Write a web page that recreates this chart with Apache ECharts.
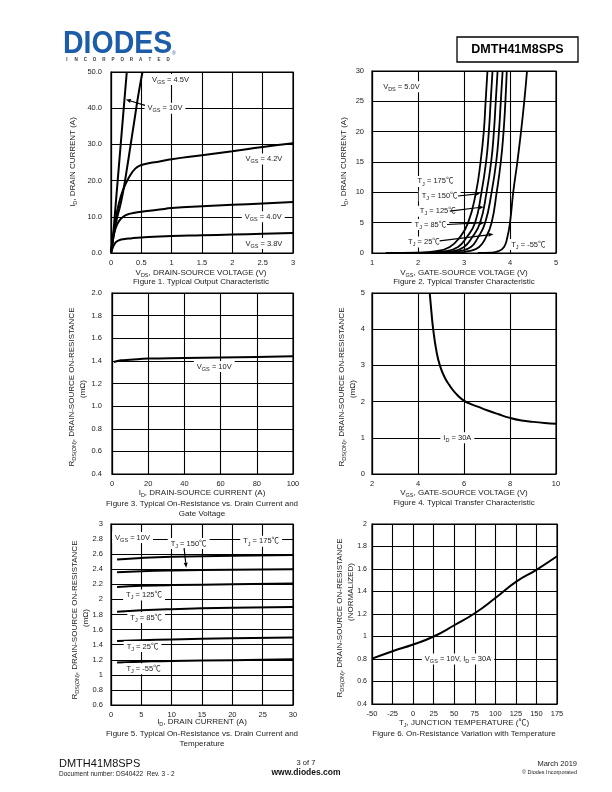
<!DOCTYPE html>
<html><head><meta charset="utf-8">
<script src="https://cdn.jsdelivr.net/npm/echarts@6/dist/echarts.min.js"></script>
<style>html,body{margin:0;padding:0;background:#fff}#c{width:612px;height:792px}</style>
</head><body><div id="c"></div>
<script>
// ---------- DATA ----------
// Figure 1: Typical Output Characteristic (VDS [V], ID [A])
const fig1_xTicks = ['0','0.5','1','1.5','2','2.5','3'];
const fig1_yTicks = ['0.0','10.0','20.0','30.0','40.0','50.0'];
const fig1_vgs10  = [[0,0],[0.03,4],[0.08,14],[0.13,24],[0.18,34],[0.22,42],[0.26,50]];
const fig1_vgs45  = [[0,0],[0.04,4.5],[0.09,9],[0.15,13],[0.2,17],[0.26,23],[0.32,29.5],[0.38,36],[0.43,41.5],[0.48,46.5],[0.52,50]];
const fig1_vgs42  = [[0,0],[0.03,4],[0.07,8.5],[0.12,13],[0.2,17.5],[0.3,21],[0.4,23.3],[0.5,24.3],[0.6,24.7],[0.8,25.3],[1,25.9],[1.5,27],[2,28.1],[2.5,29.3],[3,30.3]];
const fig1_vgs40  = [[0,0],[0.03,3.5],[0.07,6.5],[0.12,8.5],[0.2,10],[0.3,10.8],[0.5,11.4],[0.8,12],[1,12.4],[1.5,12.9],[2,13.3],[2.5,13.7],[3,14.1]];
const fig1_vgs38  = [[0,0],[0.03,1.5],[0.07,2.8],[0.12,3.4],[0.2,3.8],[0.35,4.1],[0.5,4.3],[1,4.7],[1.5,4.9],[2,5.1],[2.5,5.3],[3,5.5]];

// Figure 2: Typical Transfer Characteristic (VGS [V], ID [A])
const fig2_xTicks = ['1','2','3','4','5'];
const fig2_yTicks = ['0','5','10','15','20','25','30'];
const fig2_t175 = [[1.3,0],[2.0,0.05],[2.4,0.3],[2.69,1],[2.9,2.5],[3.09,5],[3.26,10],[3.36,15],[3.43,20],[3.47,25],[3.51,30]];
const fig2_t150 = [[1.6,0],[2.2,0.05],[2.6,0.3],[2.87,1],[3.05,2.5],[3.24,5],[3.38,10],[3.48,15],[3.54,20],[3.58,25],[3.62,30]];
const fig2_t125 = [[1.9,0],[2.4,0.05],[2.75,0.3],[3.0,1],[3.17,2.5],[3.35,5],[3.49,10],[3.59,15],[3.65,20],[3.69,25],[3.73,30]];
const fig2_t85  = [[2.2,0],[2.6,0.05],[2.9,0.3],[3.15,1],[3.3,2.5],[3.46,5],[3.6,10],[3.7,15],[3.76,20],[3.8,25],[3.84,30]];
const fig2_t25  = [[2.6,0],[2.9,0.05],[3.1,0.3],[3.33,1],[3.47,2.5],[3.6,5],[3.71,10],[3.8,15],[3.86,20],[3.9,25],[3.93,30]];
const fig2_tm55 = [[3.3,0],[3.6,0.05],[3.75,0.3],[3.87,1],[3.94,2.5],[4.0,5],[4.07,10],[4.16,15],[4.24,20],[4.31,25],[4.37,30]];

// Figure 3: On-Resistance vs Drain Current (ID [A], RDS(ON) [mOhm])
const fig3_xTicks = ['0','20','40','60','80','100'];
const fig3_yTicks = ['0.4','0.6','0.8','1.0','1.2','1.4','1.6','1.8','2.0'];
const fig3_vgs10 = [[1,1.39],[5,1.405],[10,1.41],[20,1.42],[40,1.425],[60,1.43],[80,1.435],[100,1.44]];

// Figure 4: On-Resistance vs Gate Voltage (VGS [V], RDS(ON) [mOhm])
const fig4_xTicks = ['2','4','6','8','10'];
const fig4_yTicks = ['0','1','2','3','4','5'];
const fig4_id30 = [[4.51,5],[4.58,4.5],[4.66,4.0],[4.8,3.4],[4.95,3.0],[5.15,2.68],[5.38,2.44],[5.65,2.22],[5.96,2.04],[6.3,1.93],[6.6,1.86],[7,1.76],[7.5,1.65],[8,1.55],[8.5,1.48],[9,1.44],[9.5,1.41],[10,1.39]];

// Figure 5: On-Resistance vs Drain Current and Temperature (ID [A], RDS(ON) [mOhm])
const fig5_xTicks = ['0','5','10','15','20','25','30'];
const fig5_yTicks = ['0.6','0.8','1','1.2','1.4','1.6','1.8','2','2.2','2.4','2.6','2.8','3'];
const fig5_t175 = [[1,2.53],[5,2.55],[10,2.565],[20,2.58],[30,2.59]];
const fig5_t150 = [[1,2.36],[5,2.375],[10,2.385],[20,2.395],[30,2.4]];
const fig5_t125 = [[1,2.165],[5,2.18],[10,2.19],[20,2.2],[30,2.21]];
const fig5_t85  = [[1,1.835],[5,1.855],[10,1.87],[20,1.89],[30,1.9]];
const fig5_t25  = [[1,1.45],[5,1.46],[10,1.47],[20,1.485],[30,1.495]];
const fig5_tm55 = [[1,1.165],[5,1.175],[10,1.185],[20,1.195],[30,1.205]];

// Figure 6: On-Resistance Variation with Temperature (TJ [C], normalized)
const fig6_xTicks = ['-50','-25','0','25','50','75','100','125','150','175'];
const fig6_yTicks = ['0.4','0.6','0.8','1','1.2','1.4','1.6','1.8','2'];
const fig6_norm = [[-50,0.803],[-25,0.869],[0,0.929],[25,1.0],[50,1.1],[75,1.207],[100,1.342],[125,1.486],[150,1.593],[175,1.713]];

// ---------- CHART ----------
const FONT = "'Liberation Sans', Arial, 'Noto Sans CJK SC', sans-serif";
const chart = echarts.init(document.getElementById('c'), null, {renderer:'canvas'});

const grids = [
  {left:111, top:72,  width:182, height:181},
  {left:372, top:71,  width:184, height:182},
  {left:112, top:293, width:181, height:181},
  {left:372, top:293, width:184, height:181},
  {left:111, top:524, width:182, height:181},
  {left:372, top:524, width:185, height:180}
].map(g => Object.assign({show:true, borderColor:'#000', borderWidth:1.2, backgroundColor:'#fff'}, g));

function fmt(ticks, min, step){ return v => { const i = Math.round((v-min)/step); return ticks[i] !== undefined ? ticks[i] : ''; }; }
function axis(gi, min, max, step, ticks, isX, m, fs){
  return {type:'value', gridIndex:gi, min, max, interval:step,
    axisLine:{show:true, onZero:false, lineStyle:{color:'#000', width:1.2}},
    axisTick:{show:false},
    splitLine:{show:true, lineStyle:{color:'#000', width:1.1}},
    axisLabel:{fontSize:fs||7.5, fontFamily:FONT, color:'#222', margin: m || (isX?6:8),
      showMinLabel:true, showMaxLabel:true, hideOverlap:false, formatter: fmt(ticks, min, step)}};
}
const xAxis = [
  axis(0, 0, 3, 0.5, fig1_xTicks, true),
  axis(1, 1, 5, 1, fig2_xTicks, true),
  axis(2, 0, 100, 20, fig3_xTicks, true),
  axis(3, 2, 10, 2, fig4_xTicks, true),
  axis(4, 0, 30, 5, fig5_xTicks, true),
  axis(5, -50, 175, 25, fig6_xTicks, true)
];
const yAxis = [
  axis(0, 0, 50, 10, fig1_yTicks, false, 9),
  axis(1, 0, 30, 5, fig2_yTicks, false, 8),
  axis(2, 0.4, 2.0, 0.2, fig3_yTicks, false, 10),
  axis(3, 0, 5, 1, fig4_yTicks, false, 7),
  axis(4, 0.6, 3.0, 0.2, fig5_yTicks, false, 8),
  axis(5, 0.4, 2.0, 0.2, fig6_yTicks, false, 5, 7)
];
function line(gi, data, w, sm){
  return {type:'line', xAxisIndex:gi, yAxisIndex:gi, data, symbol:'none', showSymbol:false,
    smooth: sm === undefined ? 0.5 : sm, clip:true, z:5,
    lineStyle:{color:'#000', width:w||2}, animation:false};
}
const series = [
  line(0, fig1_vgs10), line(0, fig1_vgs45), line(0, fig1_vgs42), line(0, fig1_vgs40), line(0, fig1_vgs38),
  line(1, fig2_t175, 1.8), line(1, fig2_t150, 1.8), line(1, fig2_t125, 1.8), line(1, fig2_t85, 1.8), line(1, fig2_t25, 1.8), line(1, fig2_tm55, 1.8),
  line(2, fig3_vgs10),
  line(3, fig4_id30),
  line(4, fig5_t175), line(4, fig5_t150), line(4, fig5_t125), line(4, fig5_t85), line(4, fig5_t25), line(4, fig5_tm55),
  line(5, fig6_norm)
];
chart.setOption({animation:false, backgroundColor:'#fff', grid:grids, xAxis, yAxis, series});

// ---------- ANNOTATIONS ----------
const RICH = {
  s:{fontSize:5.5, fontFamily:FONT, fill:'#222', lineHeight:5, verticalAlign:'bottom'}
};
function T(x, y, text, o){
  o = o || {};
  return {type:'text', x, y, rotation:o.rot||0, z:100, silent:true,
    style:{text, fontSize:o.size||8, fontFamily:FONT, fontWeight:o.bold?'bold':'normal',
      fill:o.color||'#222', align:o.align||'center', verticalAlign:'middle',
      lineHeight:o.lh||11, rich:RICH,
      backgroundColor:o.bg||null, padding:o.bg?[0,3,0,3]:0}};
}
const P = (gi, x, y) => chart.convertToPixel({gridIndex:gi}, [x, y]);
function L(gi, x, y, text){ const p = P(gi, x, y); return T(p[0], p[1], text, {size:7.5, bg:'#fff'}); }
function arrow(gi, a, b){
  const p = P(gi, a[0], a[1]), q = P(gi, b[0], b[1]);
  const dx = q[0]-p[0], dy = q[1]-p[1], len = Math.hypot(dx,dy), ux = dx/len, uy = dy/len;
  const hl = 5, hw = 2;
  const bx = q[0]-ux*hl, by = q[1]-uy*hl;
  return [
    {type:'line', z:101, silent:true, shape:{x1:p[0], y1:p[1], x2:bx, y2:by}, style:{stroke:'#000', lineWidth:1.2}},
    {type:'polygon', z:101, silent:true, shape:{points:[[q[0],q[1]],[bx-uy*hw, by+ux*hw],[bx+uy*hw, by-ux*hw]]}, style:{fill:'#000'}}
  ];
}
const g = [];
// header
g.push({type:'text', x:63, y:44, z:100, scaleY:1.12, style:{text:'DIODES', fontSize:28.5, fontFamily:FONT, fontWeight:'bold', fill:'#1d5ca8', align:'left', verticalAlign:'middle'}});
g.push({type:'text', x:172, y:54, z:100, style:{text:'®', fontSize:5, fontFamily:FONT, fill:'#1d5ca8', align:'left', verticalAlign:'middle'}});
'INCORPORATED'.split('').forEach((ch, i) => g.push(T(67 + i * 9.2, 60, ch, {size:4.5, bold:true, color:'#333'})));
g.push({type:'rect', z:100, shape:{x:457, y:37, width:121, height:25}, style:{fill:'#fff', stroke:'#000', lineWidth:1.3}});
g.push(T(517.5, 50, 'DMTH41M8SPS', {size:12.5, bold:true, color:'#000'}));

// Figure 1 texts
g.push(L(0, 0.98, 47.9, 'V{s|GS} = 4.5V'));
g.push(L(0, 0.89, 40, 'V{s|GS} = 10V'));
g.push(...arrow(0, [0.56, 40.8], [0.245, 42.4]));
g.push(L(0, 2.52, 26, 'V{s|GS} = 4.2V'));
g.push(L(0, 2.51, 10, 'V{s|GS} = 4.0V'));
g.push(L(0, 2.52, 2.6, 'V{s|GS} = 3.8V'));
g.push(T(201, 273, 'V{s|DS}, DRAIN-SOURCE VOLTAGE (V)'));
g.push(T(201, 282, 'Figure 1. Typical Output Characteristic'));
g.push(T(73, 162, 'I{s|D}, DRAIN CURRENT (A)', {rot:Math.PI/2}));

// Figure 2 texts
g.push(L(1, 1.64, 27.4, 'V{s|DS} = 5.0V'));
g.push(L(1, 2.38, 11.8, 'T{s|J} = 175℃'));
g.push(L(1, 2.47, 9.4, 'T{s|J} = 150℃'));
g.push(...arrow(1, [2.87, 9.4], [3.35, 9.8]));
g.push(L(1, 2.43, 6.9, 'T{s|J} = 125℃'));
g.push(...arrow(1, [2.69, 6.9], [3.43, 7.6]));
g.push(L(1, 2.27, 4.7, 'T{s|J} = 85℃'));
g.push(...arrow(1, [2.63, 4.7], [3.45, 5.0]));
g.push(L(1, 2.13, 1.8, 'T{s|J} = 25℃'));
g.push(...arrow(1, [2.47, 2.0], [3.64, 3.1]));
g.push(L(1, 4.40, 1.4, 'T{s|J} = -55℃'));
g.push(T(464, 273, 'V{s|GS}, GATE-SOURCE VOLTAGE (V)'));
g.push(T(464, 282, 'Figure 2. Typical Transfer Characteristic'));
g.push(T(344, 162, 'I{s|D}, DRAIN CURRENT (A)', {rot:Math.PI/2}));

// Figure 3 texts
g.push(L(2, 56.5, 1.35, 'V{s|GS} = 10V'));
g.push(T(202, 493, 'I{s|D}, DRAIN-SOURCE CURRENT (A)'));
g.push(T(202, 504, 'Figure 3. Typical On-Resistance vs. Drain Current and'));
g.push(T(202, 514, 'Gate Voltage'));
g.push(T(72, 387, 'R{s|DS(ON)}, DRAIN-SOURCE ON-RESISTANCE', {rot:Math.PI/2}));
g.push(T(83, 389, '(mΩ)', {rot:Math.PI/2}));

// Figure 4 texts
g.push(L(3, 5.71, 1.0, 'I{s|D} = 30A'));
g.push(T(464, 493, 'V{s|GS}, GATE-SOURCE VOLTAGE (V)'));
g.push(T(464, 503, 'Figure 4. Typical Transfer Characteristic'));
g.push(T(342, 387, 'R{s|DS(ON)}, DRAIN-SOURCE ON-RESISTANCE', {rot:Math.PI/2}));
g.push(T(353, 389, '(mΩ)', {rot:Math.PI/2}));

// Figure 5 texts
g.push(L(4, 3.55, 2.82, 'V{s|GS} = 10V'));
g.push(L(4, 12.8, 2.74, 'T{s|J} = 150℃'));
g.push(...arrow(4, [12.05, 2.68], [12.4, 2.42]));
g.push(L(4, 24.75, 2.77, 'T{s|J} = 175℃'));
g.push(L(4, 5.45, 2.06, 'T{s|J} = 125℃'));
g.push(L(4, 5.8, 1.76, 'T{s|J} = 85℃'));
g.push(L(4, 5.2, 1.375, 'T{s|J} = 25℃'));
g.push(L(4, 5.36, 1.08, 'T{s|J} = -55℃'));
g.push(T(202, 722, 'I{s|D}, DRAIN CURRENT (A)'));
g.push(T(202, 734, 'Figure 5. Typical On-Resistance vs. Drain Current and'));
g.push(T(202, 744, 'Temperature'));
g.push(T(75, 620, 'R{s|DS(ON)}, DRAIN-SOURCE ON-RESISTANCE', {rot:Math.PI/2}));
g.push(T(86, 618, '(mΩ)', {rot:Math.PI/2}));

// Figure 6 texts
g.push(L(5, 54.6, 0.8, 'V{s|GS} = 10V, I{s|D} = 30A'));
g.push(T(464, 723, 'T{s|J}, JUNCTION TEMPERATURE (℃)'));
g.push(T(464, 734, 'Figure 6. On-Resistance Variation with Temperature'));
g.push(T(340, 618, 'R{s|DS(ON)}, DRAIN-SOURCE ON-RESISTANCE', {rot:Math.PI/2}));
g.push(T(351, 592, '(NORMALIZED)', {rot:Math.PI/2}));

// footer
g.push(T(59, 764, 'DMTH41M8SPS', {size:11, align:'left', color:'#111'}));
g.push(T(59, 774, 'Document number: DS40422  Rev. 3 - 2', {size:6.5, align:'left'}));
g.push(T(306, 763, '3 of 7', {size:7.5}));
g.push(T(306, 773, 'www.diodes.com', {size:8.5, bold:true, color:'#111'}));
g.push(T(577, 764, 'March 2019', {size:7.5, align:'right'}));
g.push(T(577, 772, '© Diodes Incorporated', {size:5.5, align:'right'}));

chart.setOption({graphic:{elements:g}});
</script>
</body></html>
